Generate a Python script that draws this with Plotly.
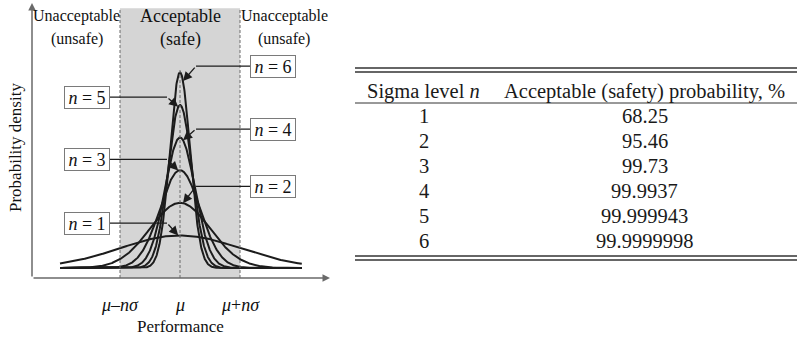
import numpy as np
import plotly.graph_objects as go

# ---- data -------------------------------------------------------------
sigma_levels = [1, 2, 3, 4, 5, 6]
safety_probability = ["68.25", "95.46", "99.73", "99.9937", "99.999943", "99.9999998"]
table_headers = ["Sigma level <i>n</i>", "Acceptable (safety) probability, %"]
tick_positions = [-1, 0, 1]
tick_labels = ["<i>μ</i>–<i>nσ</i>", "<i>μ</i>", "<i>μ</i>+<i>nσ</i>"]

# ---- layout constants -------------------------------------------------
W, H = 797, 337
SERIF = "Liberation Serif, Times New Roman, serif"
CURVE = "#1c1c1c"
AXIS = "#6a6a6a"
SHADE = "#d5d5d5"
TXT = "#111111"

X_RANGE = [-2.467, 2.5]
Y_RANGE = [-0.1224, 3.243]
label_x = {"left": -1.55, "right": 1.55}
label_y = [0.55, 1.0, 1.33, 1.70, 2.09, 2.47]
box_edge = {"left": -1.175, "right": 1.175}
bend_x = {"left": -0.217, "right": 0.267}
tip_x = {"left": -0.03, "right": 0.05}


def density(x, n):
    """Normal density with mean mu=0 and standard deviation 1/n."""
    return n / np.sqrt(2 * np.pi) * np.exp(-0.5 * (n * x) ** 2)


def py(p):
    """Pixel row -> paper y."""
    return 1 - p / H


def px(p):
    """Pixel column -> paper x."""
    return p / W


def label(**kw):
    base = dict(showarrow=False, xanchor="center", yanchor="middle")
    base.update(kw)
    return base


fig = go.Figure()

# ---- density curves ---------------------------------------------------
xs = np.linspace(-2.0, 2.03, 801)
for n in sigma_levels:
    fig.add_trace(go.Scatter(
        x=xs, y=density(xs, n), mode="lines",
        line=dict(color=CURVE, width=2), hoverinfo="skip",
        xaxis="x", yaxis="y",
    ))

shapes = []
annotations = []

# acceptable zone and its dashed borders
shapes.append(dict(type="rect", xref="x", yref="y", x0=-1, x1=1,
                   y0=Y_RANGE[0], y1=3.18, fillcolor=SHADE,
                   line=dict(width=0), layer="below"))
for xb in (-1, 1):
    shapes.append(dict(type="line", xref="x", yref="y", x0=xb, x1=xb,
                       y0=Y_RANGE[0], y1=3.18,
                       line=dict(color=AXIS, width=1, dash="3px,2px")))
shapes.append(dict(type="line", xref="x", yref="y", x0=0, x1=0,
                   y0=Y_RANGE[0], y1=density(0, max(sigma_levels)) + 0.05,
                   line=dict(color=AXIS, width=1, dash="3px,2px")))

# axes drawn as arrows
annotations.append(dict(x=X_RANGE[1], y=Y_RANGE[0], ax=X_RANGE[0], ay=Y_RANGE[0],
                        xref="x", yref="y", axref="x", ayref="y", text="",
                        showarrow=True, arrowhead=2, arrowsize=1, arrowwidth=1.5,
                        arrowcolor=AXIS))
annotations.append(dict(x=X_RANGE[0], y=Y_RANGE[1], ax=X_RANGE[0], ay=Y_RANGE[0],
                        xref="x", yref="y", axref="x", ayref="y", text="",
                        showarrow=True, arrowhead=2, arrowsize=1, arrowwidth=1.5,
                        arrowcolor=AXIS))

# tick arrows and tick labels under the horizontal axis
for t, lab in zip(tick_positions, tick_labels):
    annotations.append(dict(x=t, y=-0.147, ax=t, ay=-0.2815,
                            xref="x", yref="y", axref="x", ayref="y", text="",
                            showarrow=True, arrowhead=2, arrowsize=1.2,
                            arrowwidth=1.2, arrowcolor=CURVE))
    annotations.append(label(x=t, y=py(305), xref="x", yref="paper", text=lab,
                             font=dict(family=SERIF, size=18, color=TXT)))

annotations.append(label(x=0, y=py(326), xref="x", yref="paper", text="Performance",
                         font=dict(family=SERIF, size=17, color=TXT)))
annotations.append(label(x=px(15), y=py(148), xref="paper", yref="paper",
                         text="Probability density", textangle=-90,
                         font=dict(family=SERIF, size=17, color=TXT)))

# zone captions
for xc, lines, size in ((-1.72, ["Unacceptable", "(unsafe)"], 16),
                        (0.0, ["Acceptable", "(safe)"], 18),
                        (1.74, ["Unacceptable", "(unsafe)"], 16)):
    for row, txt in zip((16, 39), lines):
        annotations.append(label(x=xc, y=py(row), xref="x", yref="paper", text=txt,
                                 font=dict(family=SERIF, size=size, color=TXT)))

# labelled leaders pointing at each curve
for n, ly in zip(sigma_levels, label_y):
    side = "left" if n % 2 else "right"
    annotations.append(label(x=label_x[side], y=ly, xref="x", yref="y",
                             text=f"<i>n</i> = {n}",
                             width=42, height=19, borderpad=1,
                             bgcolor="white", bordercolor="#7a7a7a", borderwidth=1,
                             font=dict(family=SERIF, size=18, color=TXT)))
    shapes.append(dict(type="line", xref="x", yref="y",
                       x0=box_edge[side], x1=bend_x[side], y0=ly, y1=ly,
                       line=dict(color=CURVE, width=1.3)))
    tx = tip_x[side]
    annotations.append(dict(x=tx, y=float(density(tx, n)), ax=bend_x[side], ay=ly,
                            xref="x", yref="y", axref="x", ayref="y", text="",
                            showarrow=True, arrowhead=2, arrowsize=1.4,
                            arrowwidth=1.3, arrowcolor=CURVE, standoff=0))

# ---- table --------------------------------------------------------------
col_x = [0.156, 0.656]
tab_font = dict(family=SERIF, size=20.5, color="#1a1a1a")
for cx, head in zip(col_x, table_headers):
    annotations.append(label(x=cx, y=0, xref="x2", yref="y2", text=head,
                             font=tab_font))
for n, p in zip(sigma_levels, safety_probability):
    annotations.append(label(x=col_x[0], y=n, xref="x2", yref="y2", text=str(n),
                             font=tab_font))
    annotations.append(label(x=col_x[1], y=n, xref="x2", yref="y2", text=p,
                             font=tab_font))
for ry, lw in ((-0.92, 1.3), (-0.76, 1.3), (0.48, 1.0), (6.6, 1.3), (6.76, 1.3)):
    shapes.append(dict(type="line", xref="x2", yref="y2", x0=0, x1=1, y0=ry, y1=ry,
                       line=dict(color="#333", width=lw)))

fig.update_layout(
    width=W, height=H, margin=dict(l=0, r=0, t=0, b=0),
    paper_bgcolor="white", plot_bgcolor="white", showlegend=False,
    xaxis=dict(domain=[px(32), px(330)], range=X_RANGE, visible=False,
               fixedrange=True),
    yaxis=dict(domain=[py(278), py(3)], range=Y_RANGE, visible=False,
               fixedrange=True),
    xaxis2=dict(domain=[px(355), 1], range=[0, 1], visible=False, anchor="y2"),
    yaxis2=dict(domain=[py(290), py(40)], range=[7.96, -2.04], visible=False,
                anchor="x2"),
    shapes=shapes, annotations=annotations,
)

fig.write_html("out.html")
